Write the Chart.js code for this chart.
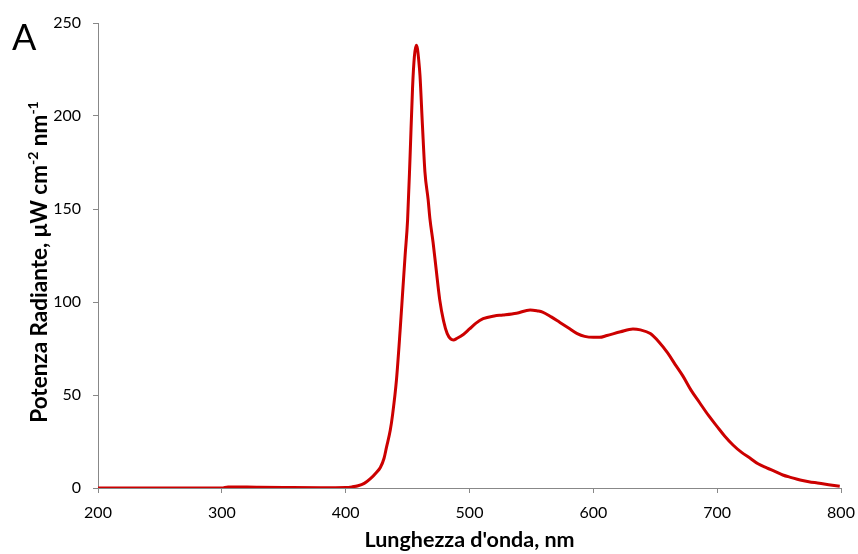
<!DOCTYPE html>
<html>
<head>
<meta charset="utf-8">
<script src="https://cdn.jsdelivr.net/npm/chart.js@4.4.1/dist/chart.umd.min.js"></script>
<style>
  body { margin: 0; background: #fff; }
  #wrap { position: relative; width: 858px; height: 554px; }
  #panelLabel { position: absolute; left: 12px; top: 14px; font: 36px Lato, sans-serif; color: #000; }
  #yTitle {
    position: absolute; left: 38px; top: 262px;
    transform: translate(-50%, -50%) rotate(-90deg);
    white-space: nowrap; font: bold 22.5px Lato, sans-serif; color: #000;
  }
  #yTitle sup { font-size: 14px; }
</style>
</head>
<body>
<div id="wrap">
  <canvas id="spectrumChart" width="858" height="554"></canvas>
  <div id="panelLabel">A</div>
  <div id="yTitle">Potenza Radiante, &mu;W cm<sup>-2</sup> nm<sup>-1</sup></div>
</div>
<script>
// wavelength (nm) and radiant power
const wavelengths = [200, 250, 300, 305, 330, 350, 380, 400, 405, 410, 415, 420, 425, 428, 431, 433, 436, 438, 441, 444, 446, 448, 450, 452, 454, 455.5, 457, 458, 459, 460, 462, 464, 466.6, 468, 470.6, 473, 476, 479, 482, 485, 487, 490, 495, 500, 505, 511, 520, 527, 538, 549, 555, 559, 566, 573, 580, 587, 593, 600, 605, 611, 622, 632, 638, 646, 653, 660, 666, 672.5, 679, 686, 693, 700, 706, 713, 720, 726.7, 733, 740, 747, 753, 760, 767, 774, 781, 790, 799];
const power = [0, 0, 0, 0.6, 0.4, 0.3, 0.2, 0.3, 0.6, 1.2, 2.5, 5, 8.5, 11, 16, 22, 31, 40, 58, 85, 105, 125, 144, 178, 215, 232, 238, 236, 230, 222, 195, 170, 155, 145, 132, 118, 101, 90, 83, 80, 79.6, 80.5, 82.5, 85.5, 88.5, 91, 92.5, 93, 94, 95.7, 95.2, 94.6, 92, 89, 86, 83, 81.5, 81, 81, 82, 84, 85.5, 85, 83, 78.5, 72.6, 66.5, 60, 52.5, 45.7, 39, 33, 28, 23, 19, 16, 13, 10.8, 8.8, 7, 5.6, 4.3, 3.4, 2.7, 1.8, 1.0];
const xTicks = [200, 300, 400, 500, 600, 700, 800];
const yTicks = [0, 50, 100, 150, 200, 250];

const points = wavelengths.map((w, i) => ({ x: w, y: power[i] }));
const axisColor = '#888888';
const tickFont = { family: 'Lato', size: 16 };

const ctx = document.getElementById('spectrumChart').getContext('2d');
new Chart(ctx, {
    type: 'line',
    data: {
        datasets: [{
            data: points,
            borderColor: '#cc0000',
            borderWidth: 3,
            pointRadius: 0,
            cubicInterpolationMode: 'monotone',
            fill: false
        }]
    },
    options: {
        responsive: false,
        animation: false,
        layout: { padding: { top: 23, right: 17, left: 0, bottom: 0 } },
        plugins: { legend: { display: false }, tooltip: { enabled: false } },
        scales: {
            x: {
                type: 'linear',
                min: xTicks[0],
                max: xTicks[xTicks.length - 1],
                afterBuildTicks: (scale) => { scale.ticks = xTicks.map(v => ({ value: v })); },
                afterFit: (scale) => {
                    scale.height = 66;
                    scale.paddingLeft = 0;
                    scale.paddingRight = 0;
                },
                grid: { drawOnChartArea: false, color: axisColor, tickLength: 5 },
                border: { color: axisColor, width: 1 },
                ticks: { color: '#000', font: tickFont, padding: 10, maxRotation: 0 },
                title: {
                    display: true,
                    text: "Lunghezza d'onda, nm",
                    color: '#000',
                    font: { family: 'Lato', size: 21.5, weight: 'bold' },
                    padding: { top: 0, bottom: 1 }
                }
            },
            y: {
                min: yTicks[0],
                max: yTicks[yTicks.length - 1],
                afterBuildTicks: (scale) => { scale.ticks = yTicks.map(v => ({ value: v })); },
                afterFit: (scale) => { scale.width = 98; },
                grid: { drawOnChartArea: false, color: axisColor, tickLength: 5 },
                border: { color: axisColor, width: 1 },
                ticks: { color: '#000', font: tickFont, padding: 12 }
            }
        }
    }
});
</script>
</body>
</html>
